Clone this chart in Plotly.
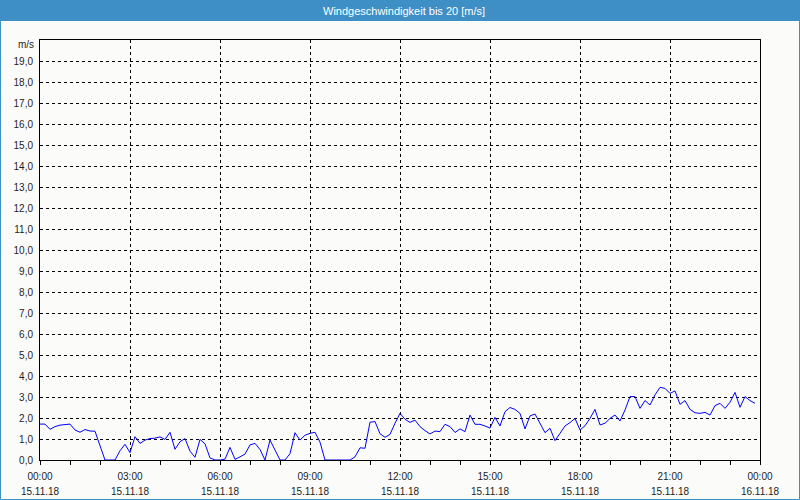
import pandas as pd
import plotly.graph_objects as go

# Wind speed [m/s], 10-minute values from 15.11.18 00:00
wind_speed = [
    1.71, 1.71, 1.46, 1.59, 1.66, 1.70, 1.71, 1.43, 1.32, 1.45,
    1.38, 1.37, 0.70, 0.00, 0.00, 0.00, 0.44, 0.75, 0.35, 1.11,
    0.79, 0.95, 1.02, 1.04, 1.10, 0.98, 1.32, 0.51, 0.87, 1.02,
    0.42, 0.13, 0.98, 0.77, 0.10, 0.00, 0.00, 0.04, 0.60, 0.03,
    0.15, 0.28, 0.72, 0.79, 0.50, 0.00, 0.95, 0.48, 0.00, 0.00,
    0.30, 1.30, 0.95, 1.18, 1.27, 1.32, 0.85, 0.00, 0.00, 0.00,
    0.00, 0.00, 0.00, 0.15, 0.58, 0.56, 1.80, 1.83, 1.25, 1.08,
    1.22, 1.75, 2.22, 1.94, 1.79, 1.90, 1.59, 1.40, 1.24, 1.38,
    1.35, 1.70, 1.59, 1.31, 1.48, 1.35, 2.14, 1.70, 1.70, 1.62,
    1.52, 2.03, 1.62, 2.30, 2.50, 2.41, 2.22, 1.48, 2.10, 2.19,
    1.75, 1.30, 1.51, 0.92, 1.27, 1.62, 1.78, 1.98, 1.43, 1.63,
    1.98, 2.41, 1.67, 1.75, 1.98, 2.14, 1.86, 2.38, 3.02, 3.02,
    2.46, 2.83, 2.62, 3.10, 3.46, 3.41, 3.17, 3.29, 2.65, 2.83,
    2.41, 2.25, 2.22, 2.27, 2.14, 2.59, 2.70, 2.46, 2.75, 3.22,
    2.51, 3.02, 2.83, 2.70,
]
start_time = "2018-11-15 00:00"
end_time = "2018-11-16 00:00"
x_tick_times = ["2018-11-15 00:00", "2018-11-15 03:00", "2018-11-15 06:00",
                "2018-11-15 09:00", "2018-11-15 12:00", "2018-11-15 15:00",
                "2018-11-15 18:00", "2018-11-15 21:00", "2018-11-16 00:00"]
x_time_labels = ["00:00", "03:00", "06:00", "09:00", "12:00",
                 "15:00", "18:00", "21:00", "00:00"]
x_date_labels = ["15.11.18", "15.11.18", "15.11.18", "15.11.18", "15.11.18",
                 "15.11.18", "15.11.18", "15.11.18", "16.11.18"]
y_tick_values = list(range(0, 20))
y_tick_labels = [f"{v},0" for v in y_tick_values]
title_text = "Windgeschwindigkeit bis 20 [m/s]"
unit_text = "m/s"

times = pd.date_range(start_time, periods=len(wind_speed), freq="10min")
hour_ticks = pd.date_range(start_time, end_time, freq="1h")

BG = "#fbfcfa"
BLUE = "#3d8fc6"
TXT = "#1e1e1e"
FONT = "Liberation Sans"
FS = 10

fig = go.Figure(go.Scatter(x=times, y=wind_speed, mode="lines",
                           line=dict(color="#0000ff", width=1),
                           hoverinfo="skip"))
# invisible helper trace on second x axis for the date row
fig.add_trace(go.Scatter(x=[times[0]], y=[None], xaxis="x2", yaxis="y",
                         mode="lines", showlegend=False, hoverinfo="skip"))

L, R, T, B = 40, 40, 40, 40
W, H = 800, 500
pw, ph = W - L - R, H - T - B


def px(x):
    return (x - L) / pw


def py(y):
    return (H - B - y) / ph


fig.update_layout(
    width=W, height=H,
    margin=dict(l=L, r=R, t=T, b=B),
    paper_bgcolor=BG, plot_bgcolor=BG,
    showlegend=False,
    font=dict(family=FONT, size=FS, color=TXT),
    xaxis=dict(
        range=[start_time, end_time], automargin=False,
        tickmode="array", tickvals=x_tick_times, ticktext=x_time_labels,
        showgrid=True, gridcolor="black", gridwidth=1, griddash="3px,3px",
        showline=True, linecolor="black", linewidth=1, mirror=True,
        ticks="outside", ticklen=4, tickcolor="black", ticklabelstandoff=3,
        minor=dict(tickmode="array", tickvals=list(hour_ticks), ticks="outside",
                   ticklen=4, tickcolor="black", showgrid=False),
        zeroline=False, tickfont=dict(size=FS, color=TXT, family=FONT),
        fixedrange=True,
    ),
    xaxis2=dict(
        range=[start_time, end_time], overlaying="x", side="bottom", anchor="y",
        automargin=False,
        tickmode="array", tickvals=x_tick_times, ticktext=x_date_labels,
        showgrid=False, showline=False, ticks="", ticklabelstandoff=24,
        zeroline=False, tickfont=dict(size=FS, color=TXT, family=FONT),
        fixedrange=True,
    ),
    yaxis=dict(
        range=[0, 20], automargin=False,
        tickmode="array", tickvals=y_tick_values, ticktext=y_tick_labels,
        showgrid=True, gridcolor="black", gridwidth=1, griddash="3px,3px",
        showline=True, linecolor="black", linewidth=1, mirror=True,
        ticks="", ticklabelstandoff=4,
        zeroline=False, tickfont=dict(size=FS, color=TXT, family=FONT),
        fixedrange=True,
    ),
    shapes=[
        dict(type="rect", xref="paper", yref="paper",
             x0=px(0), x1=px(W), y0=py(21), y1=py(0),
             fillcolor=BLUE, line=dict(width=0), layer="above"),
        dict(type="rect", xref="paper", yref="paper",
             x0=px(0.5), x1=px(W - 0.5), y0=py(H - 0.5), y1=py(0.5),
             fillcolor="rgba(0,0,0,0)", line=dict(color=BLUE, width=1), layer="above"),
    ],
    annotations=[
        dict(text=title_text, xref="paper", yref="paper", x=px(W / 2 + 4), y=py(10.5),
             xanchor="center", yanchor="middle", showarrow=False,
             font=dict(family=FONT, size=11, color="white")),
        dict(text=unit_text, xref="paper", yref="paper", x=px(36), y=py(45),
             xanchor="right", yanchor="middle", showarrow=False,
             font=dict(family=FONT, size=FS, color=TXT)),
    ],
)

fig.write_html("out.html")
